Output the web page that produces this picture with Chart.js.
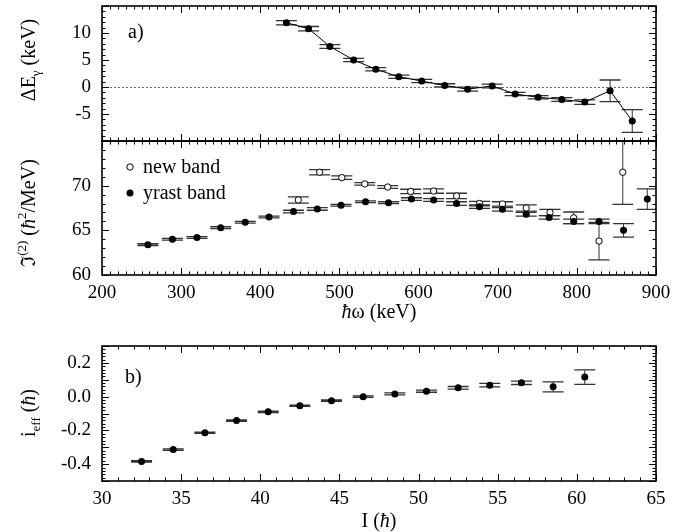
<!DOCTYPE html>
<html lang="en">
<head>
<meta charset="UTF-8">
<title>Band comparison</title>
<style>
    body { margin: 0; background: #fff; }
    #wrap { position: relative; width: 690px; height: 532px; overflow: hidden; }
    #wrap canvas { position: absolute; left: 0; }
</style>
</head>
<body>
<div id="wrap">
    <canvas id="panelA" width="690" height="150" style="top:0px"></canvas>
    <canvas id="panelJ" width="690" height="190" style="top:135px"></canvas>
    <canvas id="panelB" width="690" height="192" style="top:340px"></canvas>
</div>

<script src="https://cdn.jsdelivr.net/npm/chart.js"></script>
<script>
// panel a) - energy difference between the bands
const omegaDiff = [433, 461, 488, 518, 546, 575, 604, 633, 662, 693, 722, 751, 781, 810, 842, 870];
const deltaE    = [11.9, 10.8, 7.5, 5.0, 3.3, 1.9, 1.1, 0.3, -0.4, 0.2, -1.3, -1.9, -2.3, -2.8, -0.7, -6.3];
const deltaEErr = [0.4, 0.4, 0.35, 0.3, 0.3, 0.3, 0.3, 0.3, 0.35, 0.35, 0.3, 0.3, 0.35, 0.4, 2.0, 2.1];

// dynamic moment of inertia, yrast band
const omegaYrast = [258, 289, 320, 350, 381, 411, 442, 472, 502, 533, 562, 591, 619, 648, 677, 706, 736, 765, 796, 828, 859, 889];
const j2Yrast    = [63.4, 64.0, 64.2, 65.3, 65.9, 66.5, 67.1, 67.4, 67.8, 68.2, 68.1, 68.5, 68.4, 68.0, 67.65, 67.35, 66.8, 66.45, 66.0, 66.0, 65.0, 68.5];
const j2YrastErr = [0.1, 0.1, 0.1, 0.1, 0.1, 0.1, 0.15, 0.15, 0.1, 0.1, 0.1, 0.15, 0.15, 0.2, 0.2, 0.2, 0.2, 0.2, 0.25, 0.25, 0.75, 1.15];

// dynamic moment of inertia, new band
const omegaNew = [448, 475, 503, 532, 561, 590, 619, 648, 677, 706, 736, 766, 796, 828, 858];
const j2New    = [68.4, 71.5, 70.9, 70.2, 69.85, 69.35, 69.4, 68.85, 68.0, 67.95, 67.5, 67.0, 66.4, 63.8, 71.5];
const j2NewErr = [0.35, 0.3, 0.2, 0.15, 0.15, 0.25, 0.25, 0.3, 0.25, 0.25, 0.35, 0.35, 0.65, 2.1, 3.6];

// panel b) - effective alignment
const spin    = [32.5, 34.5, 36.5, 38.5, 40.5, 42.5, 44.5, 46.5, 48.5, 50.5, 52.5, 54.5, 56.5, 58.5, 60.5];
const iEff    = [-0.384, -0.314, -0.214, -0.142, -0.09, -0.054, -0.024, 0.0, 0.016, 0.032, 0.052, 0.068, 0.082, 0.058, 0.116];
const iEffErr = [0.004, 0.004, 0.004, 0.004, 0.004, 0.004, 0.004, 0.004, 0.006, 0.006, 0.008, 0.01, 0.01, 0.03, 0.043];

// tick labels
const omegaLabels  = [200, 300, 400, 500, 600, 700, 800, 900];
const deltaELabels = [-5, 0, 5, 10];
const j2Labels     = [60, 65, 70];
const spinLabels   = [30, 35, 40, 45, 50, 55, 60, 65];
const iEffLabels   = [-0.4, -0.2, 0.0, 0.2];

const SERIF = "'Liberation Serif', 'Times New Roman', serif";

function pts(xs, ys) {
    return xs.map((x, i) => ({ x: x, y: ys[i] }));
}

function near(a, b) { return Math.abs(a - b) < 1e-7; }

function isMultiple(v, step) {
    const r = v / step;
    return Math.abs(r - Math.round(r)) < 1e-6;
}

function labelCb(list, fmt) {
    return function(v) {
        const hit = list.find(l => near(l, v));
        return hit === undefined ? '' : fmt(hit);
    };
}

// no extra room for half-labels at the axis ends
function noPad(s) {
    s.paddingTop = 0;
    s.paddingBottom = 0;
    s.paddingLeft = 0;
    s.paddingRight = 0;
}

// text with sub/superscripts and italics, optionally rotated
function richText(ctx, parts, x, y, angle, align) {
    ctx.save();
    ctx.translate(x, y);
    ctx.rotate(angle || 0);
    ctx.fillStyle = '#000';
    ctx.textBaseline = 'alphabetic';
    let w = 0;
    parts.forEach(p => {
        ctx.font = (p.italic ? 'italic ' : '') + (p.size || 20) + 'px ' + SERIF;
        p.w = ctx.measureText(p.t).width;
        w += p.w;
    });
    let cx = align === 'left' ? 0 : -w / 2;
    parts.forEach(p => {
        ctx.font = (p.italic ? 'italic ' : '') + (p.size || 20) + 'px ' + SERIF;
        ctx.fillText(p.t, cx, p.dy || 0);
        cx += p.w;
    });
    ctx.restore();
}

// vertical error bars with wide caps
const errorBars = {
    id: 'errorBars',
    beforeDatasetsDraw(chart) {
        const ctx = chart.ctx, a = chart.chartArea, ys = chart.scales.y;
        ctx.save();
        ctx.beginPath();
        ctx.rect(a.left, a.top, a.right - a.left, a.bottom - a.top);
        ctx.clip();
        chart.data.datasets.forEach((ds, di) => {
            if (!ds.errors) return;
            chart.getDatasetMeta(di).data.forEach((el, i) => {
                const v = ds.data[i].y, e = ds.errors[i];
                const yTop = ys.getPixelForValue(v + e);
                const yBot = ys.getPixelForValue(v - e);
                ctx.strokeStyle = '#333';
                ctx.lineWidth = 1;
                ctx.beginPath();
                ctx.moveTo(el.x, yTop);
                ctx.lineTo(el.x, yBot);
                ctx.stroke();
                ctx.lineWidth = 1.3;
                ctx.beginPath();
                ctx.moveTo(el.x - 10.5, yTop);
                ctx.lineTo(el.x + 10.5, yTop);
                ctx.moveTo(el.x - 10.5, yBot);
                ctx.lineTo(el.x + 10.5, yBot);
                ctx.stroke();
            });
        });
        ctx.restore();
    }
};

// per-panel decorations: axis titles, panel tags, legend, zero line
const decor = {
    panelA(ctx, chart) {
        const a = chart.chartArea, y0 = chart.scales.y.getPixelForValue(0);
        ctx.save();
        ctx.strokeStyle = '#666';
        ctx.lineWidth = 1;
        ctx.setLineDash([2, 2]);
        ctx.beginPath();
        ctx.moveTo(a.left, Math.round(y0) + 0.5);
        ctx.lineTo(a.right, Math.round(y0) + 0.5);
        ctx.stroke();
        ctx.restore();
        richText(ctx, [{ t: 'ΔE' }, { t: 'γ', size: 13, dy: 5 }, { t: ' (keV)' }], 35, 60, -Math.PI / 2);
        richText(ctx, [{ t: 'a)' }], 128, 38, 0, 'left');
    },
    panelJ(ctx, chart) {
        richText(ctx, [
            { t: 'ℑ' }, { t: '(2)', size: 13, dy: -9 }, { t: ' (' }, { t: 'ħ', italic: true },
            { t: '2', size: 13, dy: -9 }, { t: '/MeV)' }
        ], 35, 78, -Math.PI / 2);
        richText(ctx, [{ t: 'ħ', italic: true }, { t: 'ω (keV)' }], 379, 183, 0);
        // legend
        ctx.save();
        ctx.strokeStyle = '#000';
        ctx.fillStyle = '#fff';
        ctx.lineWidth = 1;
        ctx.beginPath();
        ctx.arc(130, 32, 3.2, 0, Math.PI * 2);
        ctx.fill();
        ctx.stroke();
        ctx.fillStyle = '#000';
        ctx.beginPath();
        ctx.arc(130, 58, 3.5, 0, Math.PI * 2);
        ctx.fill();
        ctx.restore();
        richText(ctx, [{ t: 'new band' }], 143, 38, 0, 'left');
        richText(ctx, [{ t: 'yrast band' }], 143, 64, 0, 'left');
    },
    panelB(ctx, chart) {
        richText(ctx, [{ t: 'i' }, { t: 'eff', size: 13, dy: 5 }, { t: ' (' }, { t: 'ħ', italic: true }, { t: ')' }],
            35, 73, -Math.PI / 2);
        richText(ctx, [{ t: 'I (' }, { t: 'ħ', italic: true }, { t: ')' }], 379, 187, 0);
        richText(ctx, [{ t: 'b)' }], 125, 43, 0, 'left');
    }
};

const majors = {
    panelA: { x: 100, y: 5 },
    panelJ: { x: 100, y: 5 },
    panelB: { x: 5, y: 0.1 }
};

// frame with inward ticks on all four sides
const frame = {
    id: 'frame',
    beforeDatasetsDraw(chart) {
        const d = decor[chart.canvas.id];
        if (d) d(chart.ctx, chart);
    },
    afterDraw(chart) {
        const ctx = chart.ctx, a = chart.chartArea;
        const xs = chart.scales.x, ys = chart.scales.y;
        const mj = majors[chart.canvas.id];
        ctx.save();
        ctx.strokeStyle = '#000';
        ctx.lineWidth = 1;
        ctx.beginPath();
        xs.ticks.forEach(t => {
            const px = Math.round(xs.getPixelForValue(t.value)) + 0.5;
            const len = isMultiple(t.value, mj.x) ? 7 : 3.5;
            ctx.moveTo(px, a.top); ctx.lineTo(px, a.top + len);
            ctx.moveTo(px, a.bottom); ctx.lineTo(px, a.bottom - len);
        });
        ys.ticks.forEach(t => {
            const py = Math.round(ys.getPixelForValue(t.value)) + 0.5;
            const len = isMultiple(t.value, mj.y) ? 7 : 3.5;
            ctx.moveTo(a.left, py); ctx.lineTo(a.left + len, py);
            ctx.moveTo(a.right, py); ctx.lineTo(a.right - len, py);
        });
        ctx.stroke();
        ctx.lineWidth = 1.6;
        ctx.strokeRect(a.left, a.top, a.right - a.left, a.bottom - a.top);
        ctx.restore();
    }
};

function makePanel(id, cfg) {
    const tickFont = { family: SERIF, size: 19 };
    return new Chart(document.getElementById(id), {
        type: 'scatter',
        data: { datasets: cfg.datasets },
        options: {
            responsive: false,
            animation: false,
            events: [],
            layout: { padding: { left: 0, right: 34, top: 6, bottom: 0 } },
            plugins: { legend: { display: false }, tooltip: { enabled: false } },
            scales: {
                x: {
                    type: 'linear', min: cfg.xMin, max: cfg.xMax,
                    grid: { display: false, drawTicks: false },
                    border: { display: false },
                    afterFit: s => { s.height = cfg.xHeight; noPad(s); },
                    ticks: {
                        display: cfg.xShow, stepSize: cfg.xStep, autoSkip: false,
                        maxRotation: 0, minRotation: 0, padding: 7,
                        color: '#000', font: tickFont,
                        callback: labelCb(cfg.xLabels, v => String(v))
                    }
                },
                y: {
                    type: 'linear', min: cfg.yMin, max: cfg.yMax,
                    grid: { display: false, drawTicks: false },
                    border: { display: false },
                    afterFit: s => { s.width = 102; noPad(s); },
                    ticks: {
                        stepSize: cfg.yStep, autoSkip: false, padding: 11,
                        color: '#000', font: tickFont,
                        callback: labelCb(cfg.yLabels, cfg.yFmt)
                    }
                }
            }
        },
        plugins: [errorBars, frame]
    });
}

makePanel('panelA', {
    xMin: 200, xMax: 900, xStep: 10, xLabels: omegaLabels, xShow: false, xHeight: 9,
    yMin: -10, yMax: 15, yStep: 1, yLabels: deltaELabels, yFmt: v => String(v),
    datasets: [{
        data: pts(omegaDiff, deltaE), errors: deltaEErr,
        showLine: true, borderColor: '#000', borderWidth: 1,
        pointRadius: 3.5, pointBackgroundColor: '#000', pointBorderColor: '#000', pointBorderWidth: 0
    }]
});

makePanel('panelJ', {
    xMin: 200, xMax: 900, xStep: 10, xLabels: omegaLabels, xShow: true, xHeight: 50,
    yMin: 60, yMax: 75, yStep: 1, yLabels: j2Labels, yFmt: v => String(v),
    datasets: [{
        label: 'yrast band',
        data: pts(omegaYrast, j2Yrast), errors: j2YrastErr,
        pointRadius: 3.5, pointBackgroundColor: '#000', pointBorderColor: '#000', pointBorderWidth: 0
    }, {
        label: 'new band',
        data: pts(omegaNew, j2New), errors: j2NewErr,
        pointRadius: 3.2, pointBackgroundColor: '#fff', pointBorderColor: '#000', pointBorderWidth: 1
    }]
});

makePanel('panelB', {
    xMin: 30, xMax: 65, xStep: 1, xLabels: spinLabels, xShow: true, xHeight: 51,
    yMin: -0.5, yMax: 0.3, yStep: 0.02, yLabels: iEffLabels, yFmt: v => v.toFixed(1),
    datasets: [{
        data: pts(spin, iEff), errors: iEffErr,
        pointRadius: 3.5, pointBackgroundColor: '#000', pointBorderColor: '#000', pointBorderWidth: 0
    }]
});
</script>
</body>
</html>
